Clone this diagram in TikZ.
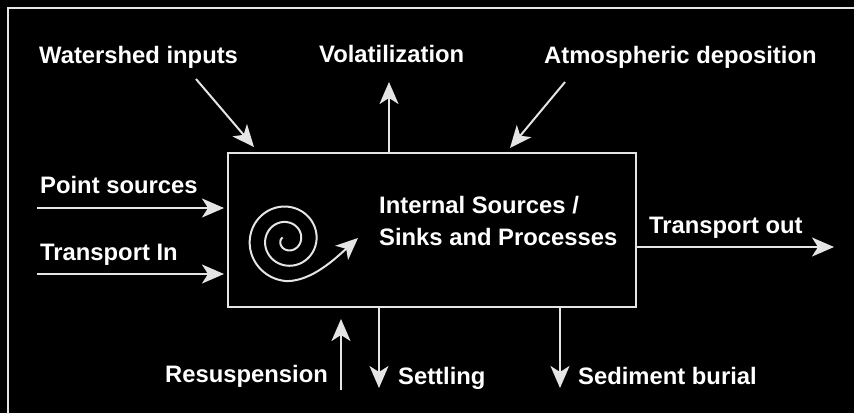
\documentclass[tikz,border=0pt]{standalone}
\usepackage{fontspec}
\setmainfont{Liberation Sans}
\usetikzlibrary{arrows.meta,calc}
\definecolor{linecol}{gray}{0.9}
\begin{document}
\begin{tikzpicture}[x=1pt,y=-1pt,
  lbl/.style={text=white,font=\fontsize{23.8}{28}\selectfont\bfseries,inner sep=0pt,anchor=base west},
  arr/.style={draw=linecol,line width=2pt,-{Stealth[length=22pt,width=19pt,inset=6pt]}},
  boxst/.style={draw=linecol,line width=2pt,minimum width=408pt,minimum height=154pt,inner sep=0pt}]
\fill[black] (0,0) rectangle (854,413);
\useasboundingbox (0,0) rectangle (854,413);
\begin{scope}
\clip (0,0) rectangle (854,413);
\draw[linecol,line width=2.5pt] (8,8) rectangle (900,460);
\end{scope}
% main box
\node[boxst] (box) at (432,230) {};
\node[lbl] (int1) at (379,213) {Internal Sources /};
\node[lbl] (int2) at (379,245) {Sinks and Processes};
% labels
\node[lbl] (ws) at (39,63) {Watershed inputs};
\node[lbl] (vol) at (319,62) {Volatilization};
\node[lbl] (atm) at (544,63) {Atmospheric deposition};
\node[lbl] (ps) at (40,193) {Point sources};
\node[lbl] (ti) at (40,260) {Transport In};
\node[lbl] (tout) at (649,233) {Transport out};
\node[lbl] (res) at (165,382) {Resuspension};
\node[lbl] (setl) at (398,384) {Settling};
\node[lbl] (sed) at (578,384) {Sediment burial};
% coordinates
\coordinate (ws0) at (196,79);
\coordinate (ws1) at (254,147);
\coordinate (vol1) at (389,82);
\coordinate (atm0) at (565,82);
\coordinate (atm1) at (510,148);
\coordinate (ps0) at (37,208);
\coordinate (ps1) at (224,208);
\coordinate (ti0) at (37,274);
\coordinate (ti1) at (224,274);
\coordinate (to1) at (834,247);
\coordinate (res0) at (341,390);
\coordinate (res1) at (341,319);
\coordinate (set1) at (379,388);
\coordinate (sed1) at (560,388);
\coordinate (sptip) at (358,238);
% arrows
\draw[arr] (ws0) -- (ws1);
\draw[arr] (vol1 |- box.north) -- (vol1);
\draw[arr] (atm0) -- (atm1);
\draw[arr] (ps0) -- (ps1);
\draw[arr] (ti0) -- (ti1);
\draw[arr] (box.east |- to1) -- (to1);
\draw[arr] (res0) -- (res1);
\draw[arr] (set1 |- box.south) -- (set1);
\draw[arr] (sed1 |- box.south) -- (sed1);
% spiral
\draw[arr] plot[domain=150:990,samples=240,smooth,variable=\t]
  ({287+(5+(\t-150)*0.043)*cos(\t)},{240-(5+(\t-150)*0.043)*sin(\t)})
  .. controls (312,281) and (336,258) .. (sptip);
\end{tikzpicture}
\end{document}
